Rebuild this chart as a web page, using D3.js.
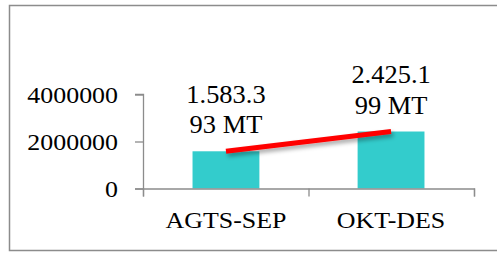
<!DOCTYPE html>
<html>
<head>
<meta charset="utf-8">
<script src="https://cdn.jsdelivr.net/npm/d3@7"></script>
<style>
  body { margin: 0; background: #fff; }
  svg text { font-family: "Liberation Serif", "Times New Roman", serif; fill: #000; }
</style>
</head>
<body>
<div id="chart"><svg></svg></div>
<script>
const categories = ["AGTS-SEP", "OKT-DES"];
const values = [1583393, 2425199];
const labelLines = [["1.583.3", "93 MT"], ["2.425.1", "99 MT"]];
const yTicks = [0, 2000000, 4000000];

const width = 497, height = 253;
const svg = d3.select("#chart > svg").attr("width", width).attr("height", height);

// outer frame (right side falls off the picture)
svg.append("path")
  .attr("d", "M498,5.5 H9.5 V250.5 H498")
  .attr("fill", "none")
  .attr("stroke", "#8c8c8c")
  .attr("stroke-width", 1.5);

const x = d3.scaleBand().domain(categories).range([143, 474]).paddingInner(0.595).paddingOuter(0.3);
const y = d3.scaleLinear().domain([0, 4000000]).range([188.5, 94.5]);

const sx = 1.08; // text in the picture is a bit wide
const stretched = (sel, tx, ty) => sel.attr("transform", `translate(${tx},${ty}) scale(${sx},1)`);

// bars
svg.selectAll("rect.bar")
  .data(values)
  .join("rect")
  .attr("class", "bar")
  .attr("x", (d, i) => x(categories[i]))
  .attr("width", x.bandwidth())
  .attr("y", d => y(d))
  .attr("height", d => y(0) - y(d))
  .attr("fill", "#33cccc");

// axes
const axisColor = "#8c8c8c";
const yAxis = svg.append("g")
  .attr("transform", "translate(143,0)")
  .call(d3.axisLeft(y).tickValues(yTicks).tickSize(8).tickFormat(""));
const xAxis = svg.append("g")
  .attr("transform", `translate(0,${y(0)})`)
  .call(d3.axisBottom(d3.scaleLinear().domain([0, 2]).range([143, 474])).ticks(2).tickSize(8).tickFormat(""));
[yAxis, xAxis].forEach(g => {
  g.select(".domain").attr("stroke", axisColor).attr("stroke-width", 1.3);
  g.selectAll(".tick line").attr("stroke", axisColor).attr("stroke-width", 1.3);
});
xAxis.select(".domain").attr("d", "M135,0.5H474.5V8");
yAxis.select(".domain").attr("d", `M-8,${y(4000000)}H0.5V${y(0) + 8}`);

// y tick labels
yTicks.forEach(t => {
  svg.append("text")
    .attr("text-anchor", "end")
    .attr("font-size", 24)
    .text(t)
    .call(stretched, 118, y(t) + 8);
});

// x labels
categories.forEach(c => {
  svg.append("text")
    .attr("text-anchor", "middle")
    .attr("font-size", 24)
    .text(c)
    .call(stretched, x(c) + x.bandwidth() / 2, 228);
});

// red trend line with a soft shadow
const defs = svg.append("defs");
const f = defs.append("filter").attr("id", "shadow").attr("x", "-10%").attr("y", "-100%").attr("width", "120%").attr("height", "400%");
f.append("feDropShadow").attr("dx", 2).attr("dy", 3).attr("stdDeviation", 2).attr("flood-color", "#000").attr("flood-opacity", 0.35);

const line = d3.line()
  .x((d, i) => x(categories[i]) + x.bandwidth() / 2)
  .y(d => y(d));
svg.append("path")
  .datum(values)
  .attr("d", line)
  .attr("fill", "none")
  .attr("stroke", "#ff0000")
  .attr("stroke-width", 5)
  .attr("filter", "url(#shadow)");

// data labels
values.forEach((v, i) => {
  const cx = x(categories[i]) + x.bandwidth() / 2;
  labelLines[i].forEach((s, k) => {
    svg.append("text")
      .attr("text-anchor", "middle")
      .attr("font-size", 24.5)
      .text(s)
      .call(stretched, cx, y(v) - 18 - (1 - k) * 30.5);
  });
});
</script>
</body>
</html>
